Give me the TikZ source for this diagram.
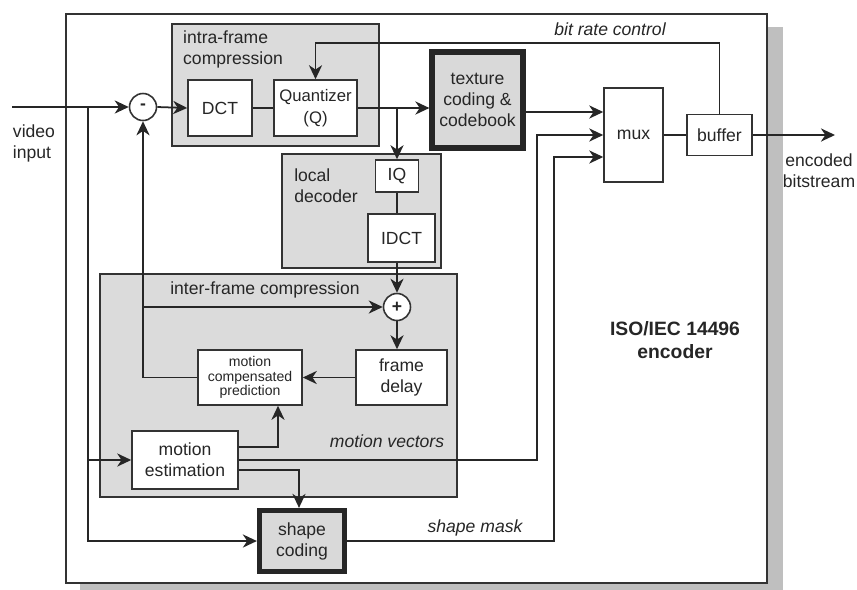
\documentclass[tikz,border=0pt]{standalone}
\usepackage{fontspec}
\setmainfont{Liberation Sans}
\usetikzlibrary{arrows.meta,positioning}

\begin{document}
\begin{tikzpicture}[x=0.02cm, y=-0.02cm,
    font=\fontsize{10}{12}\selectfont, text=black!85,
    blk/.style={draw=black!80, line width=0.9pt, fill=white, align=center, inner sep=1pt},
    grp/.style={draw=black!80, line width=0.9pt, fill=black!14, inner sep=0pt},
    hvy/.style={draw=black!85, line width=3pt, fill=black!15, align=center, inner sep=1pt},
    sumnode/.style={circle, draw=black!80, line width=0.9pt, fill=white, minimum size=0.54cm, inner sep=0pt, font=\fontsize{10}{10}\selectfont\bfseries},
    note/.style={align=center},
    lbl/.style={align=center, font=\fontsize{10}{12}\selectfont\itshape},
    arr/.style={-{Stealth[length=8pt, width=7.5pt, inset=2.5pt]}, line width=1pt, draw=black!85},
    wire/.style={line width=1pt, draw=black!85}
  ]
    \useasboundingbox (0,0) rectangle (857,589);

    % encoder frame with shadow
    \fill[black!25] (80,27) rectangle (783,600);
    \node[draw=black!80, line width=0.9pt, fill=white, inner sep=0pt, minimum width=14.02cm, minimum height=11.38cm] (enc) at (416.5,298.5) {};

    \node[grp, minimum width=4.14cm, minimum height=2.44cm] (intra) at (275.5,85) {};
    \node[grp, minimum width=3.18cm, minimum height=2.28cm] (local) at (361.5,211) {};
    \node[grp, minimum width=7.14cm, minimum height=4.46cm] (inter) at (278.5,385.5) {};

    \node[sumnode] (sub) at (143,107) {-};
    \node[blk, minimum width=1.28cm, minimum height=1.12cm] (dct) at (220,108) {DCT};
    \node[blk, minimum width=1.66cm, minimum height=1.12cm, font=\fontsize{9.5}{12.5}\selectfont] (quant) at (315.5,108) {Quantizer\\(Q)};
    \node[hvy, minimum width=1.82cm, minimum height=1.92cm] (tex) at (477.5,100) {texture\\coding \&\\codebook};
    \node[blk, minimum width=1.18cm, minimum height=1.88cm] (mux) at (633.5,135) {mux};
    \node[blk, minimum width=1.3cm, minimum height=0.82cm] (buffer) at (719.5,135) {buffer};
    \node[blk, minimum width=0.86cm, minimum height=0.64cm] (iq) at (397,176) {IQ};
    \node[blk, minimum width=1.34cm, minimum height=0.96cm] (idct) at (401.5,238) {IDCT};
    \node[sumnode] (plus) at (397,307) {+};
    \node[blk, minimum width=2.08cm, minimum height=1.1cm, font=\fontsize{8}{8.4}\selectfont] (mcp) at (250,377.5) {motion\\compensated\\prediction};
    \node[blk, minimum width=1.82cm, minimum height=1.1cm] (delay) at (401.5,377.5) {frame\\delay};
    \node[blk, minimum width=2.12cm, minimum height=1.16cm] (me) at (185,460) {motion\\estimation};
    \node[hvy, minimum width=1.7cm, minimum height=1.22cm] (shape) at (302,541) {shape\\coding};

    \node[note, align=left] (intralbl) at (233,49) {intra-frame\\compression};
    \node[note, align=left] (locallbl) at (326,186) {local\\decoder};
    \node[note] (interlbl) at (265,290) {inter-frame compression};
    \node[lbl] (mvlbl) at (387,441) {motion vectors};
    \node[lbl] (masklbl) at (475,528) {shape mask};
    \node[lbl] (ratelbl) at (610,29) {bit rate control};
    \node[note, font=\fontsize{11}{13}\selectfont\bfseries] (isolbl) at (675,340) {ISO/IEC 14496\\encoder};
    \node[note, align=left] (inlbl) at (34,143) {video\\input};
    \node[note] (outlbl) at (819,171) {encoded\\bitstream};

    \coordinate (vin) at (12,107);
    \coordinate (vout) at (835,135);
    \coordinate (tap) at (88,107);
    \coordinate (qtap) at (397,108);

    \draw[arr] (vin) -- (sub.west);
    \draw[arr] (sub.east) -- (dct.west);
    \draw[wire] (dct.east) -- (quant.west);
    \draw[arr] (quant.east) -- (quant.east -| tex.west);
    \draw[arr] (qtap) -- (iq.north);
    \draw[wire] (iq.south) -- (iq.south |- idct.north);
    \draw[arr] (iq.south |- idct.south) -- (plus.north);
    \draw[arr] (plus.south) -- (plus.south |- delay.north);
    \draw[arr] (delay.west) -- (mcp.east);
    \draw[arr] (mcp.west) -| (sub.south);
    \draw[arr] (sub.south |- plus.west) -- (plus.west);
    \draw[arr] (tap) |- (shape.west);
    \draw[arr] (tap |- me.west) -- (me.west);
    \draw[arr] ([yshift=0.26cm]me.east) -| ([xshift=0.56cm]mcp.south);
    \draw[arr] ([yshift=-0.2cm]me.east) -| ([xshift=-0.06cm]shape.north);
    \draw[arr] (me.east) -| ([xshift=-1.32cm]mux.west) -- (mux.west);
    \draw[arr] (shape.east) -| ([xshift=-0.98cm, yshift=-0.44cm]mux.west) -- ([yshift=-0.44cm]mux.west);
    \draw[arr] ([yshift=-0.24cm]tex.east) coordinate (t1) -- (t1 -| mux.west);
    \draw[wire] (mux.east) -- (buffer.west);
    \draw[arr] (buffer.east) -- (vout);
    \draw[arr] (buffer.north) -- ++(0,-71) -| (quant.north);
\end{tikzpicture}
\end{document}
